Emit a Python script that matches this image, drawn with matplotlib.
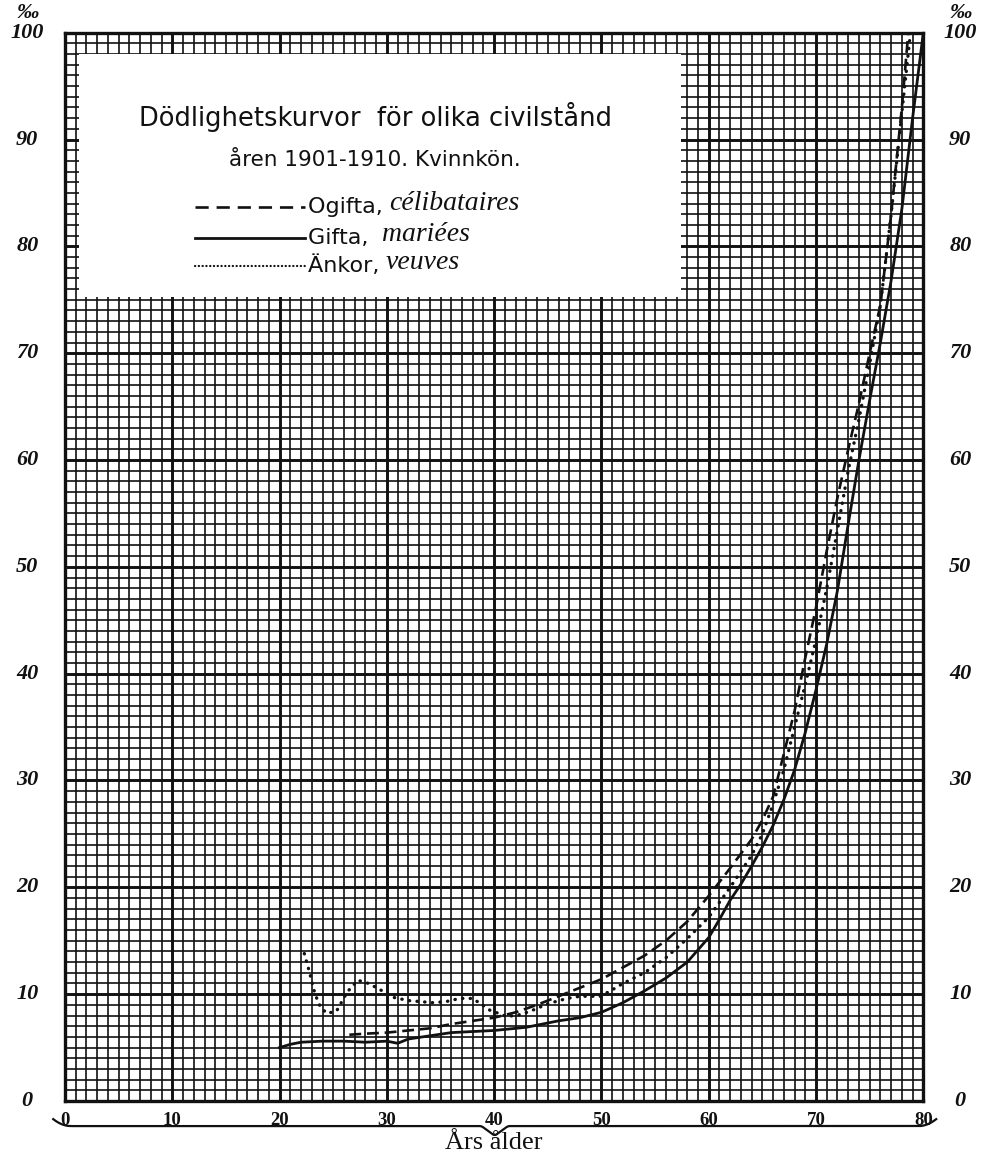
import matplotlib

matplotlib.use("Agg")
import matplotlib.pyplot as plt
from matplotlib.patches import Rectangle
import numpy as np

# mortality per mille by age, women 1901-1910
ogifta_age = [26.5, 28, 30, 32, 34, 36, 38, 40, 42, 44, 46, 48, 50, 52, 54, 56, 58, 60,
              62, 64, 65, 66, 67, 68, 69, 70, 71, 72, 73, 74, 75, 76, 77, 78, 78.6]
ogifta_rate = [6.2, 6.3, 6.4, 6.6, 6.8, 7.2, 7.5, 7.8, 8.3, 9.0, 9.8, 10.6, 11.4, 12.5, 13.6,
               15.0, 16.8, 19.2, 21.8, 24.5, 26.3, 28.5, 32.5, 36.5, 41.5, 46.2, 51.5, 56.5,
               61.0, 65.3, 70.0, 74.5, 83.0, 93.0, 100.0]

gifta_age = [20, 21, 22, 24, 26, 28, 30, 31, 32, 34, 36, 38, 40, 42, 43, 44, 46, 48, 50, 52,
             54, 56, 58, 60, 61, 62, 63, 64, 65, 66, 67, 68, 69, 70, 71, 72, 73, 74, 75, 76,
             77, 78, 79, 80]
gifta_rate = [5.0, 5.3, 5.5, 5.6, 5.6, 5.5, 5.6, 5.4, 5.8, 6.1, 6.4, 6.5, 6.6, 6.8, 6.9, 7.1,
              7.5, 7.8, 8.3, 9.2, 10.3, 11.5, 13.0, 15.3, 17.0, 18.8, 20.3, 22.0, 23.8, 25.8,
              28.2, 31.0, 34.5, 38.5, 42.8, 47.8, 54.0, 60.0, 65.6, 71.0, 76.8, 83.5, 92.0,
              100.0]

ankor_age = [22.3, 22.8, 23.3, 23.8, 24.4, 25.3, 26.3, 27.3, 28.3, 29.4, 30.6, 32, 34.3, 35.5,
             36.8, 38, 39.6, 41.2, 42.5, 43.6, 45, 46.8, 48, 49.9, 51, 52, 54, 56, 58, 60, 62,
             64, 65, 66, 67, 68, 69, 70, 71, 72, 73, 74, 75, 76, 77, 78, 78.8]
ankor_rate = [13.8, 12.0, 10.0, 8.8, 8.2, 8.4, 10.2, 11.3, 11.0, 10.4, 9.7, 9.4, 9.2, 9.3, 9.6,
              9.6, 8.5, 7.9, 8.1, 8.5, 9.1, 9.6, 9.8, 9.8, 10.4, 11.0, 12.0, 13.4, 15.2, 17.2,
              20.0, 23.0, 25.0, 27.8, 31.0, 35.0, 39.0, 43.2, 48.0, 53.5, 59.0, 63.8, 69.0,
              74.5, 83.0, 92.5, 100.0]

x_ticks = list(range(0, 81, 10))
y_ticks = list(range(0, 101, 10))

INK = "#111111"
SERIF = "Liberation Serif"

fig = plt.figure(figsize=(9.81, 11.56), dpi=100, facecolor="white")
ax = fig.add_axes([0.0663, 0.0476, 0.8749, 0.9241])
ax.set_xlim(0, 80)
ax.set_ylim(0, 100)

# graph paper
ax.set_xticks(x_ticks)
ax.set_yticks(y_ticks)
ax.set_xticks(np.arange(0, 81, 1), minor=True)
ax.set_yticks(np.arange(0, 101, 1), minor=True)
ax.grid(True, which="major", color=INK, linewidth=2.1)
ax.grid(True, which="minor", color=INK, linewidth=1.2)
ax.set_axisbelow(True)
ax.tick_params(which="both", length=0, labelbottom=False, labelleft=False)
for spine in ax.spines.values():
    spine.set_linewidth(2.4)
    spine.set_color(INK)

# white legend panel
ax.add_patch(Rectangle((1.3, 75.3), 56.1, 22.7, facecolor="white", edgecolor="none", zorder=1))

ax.plot(ogifta_age, ogifta_rate, color=INK, linewidth=1.9, linestyle=(0, (4.5, 2.2)), zorder=3)
ax.plot(gifta_age, gifta_rate, color=INK, linewidth=2.0, zorder=3)
ax.plot(ankor_age, ankor_rate, color=INK, linewidth=2.4, linestyle=(0, (0.1, 2.2)),
        dash_capstyle="round", zorder=3)

# title and legend inside the panel
ax.text(28.9, 92.1, "Dödlighetskurvor  för olika civilstånd", ha="center", va="center",
        fontsize=18.5, color=INK, zorder=4)
ax.text(28.9, 88.1, "åren 1901-1910. Kvinnkön.", ha="center", va="center",
        fontsize=15.5, color=INK, zorder=4)

entries = [
    ("Ogifta, ", "célibataires", 83.7, dict(linestyle=(0, (5.0, 3.0)), linewidth=1.9)),
    ("Gifta,  ", "mariées", 80.8, dict(linewidth=2.0)),
    ("Änkor, ", "veuves", 78.2, dict(linestyle=(0, (0.1, 1.6)), linewidth=1.6,
                                      dash_capstyle="round")),
]
for label, french, y, style in entries:
    ax.plot([12.1, 22.4], [y, y], color=INK, zorder=4, **style)
    t = ax.text(22.6, y, label, ha="left", va="center", fontsize=16, color=INK, zorder=4)
    ax.annotate(french, xy=(1, 0.05), xycoords=t, ha="left", va="bottom", fontsize=20,
                style="italic", family=SERIF, color=INK, zorder=4)

# axis labels on both sides
for v in y_ticks:
    for xa in (-0.044, 1.043):
        ax.text(xa, v, str(v), transform=ax.get_yaxis_transform(), ha="center", va="center",
                fontsize=16, fontweight="bold", style="italic", family=SERIF, color=INK,
                clip_on=False)
for xa in (-0.044, 1.043):
    ax.annotate("‰", xy=(xa, 100), xycoords=ax.get_yaxis_transform(), xytext=(0, 14),
                textcoords="offset points", ha="center", va="center", fontsize=16,
                fontweight="bold", style="italic", family=SERIF, color=INK)

for v in x_ticks:
    ax.text(v, -1.8, str(v), ha="center", va="center", fontsize=13.5, fontweight="bold",
            family=SERIF, color=INK, clip_on=False)

# curly brace under the age axis
t = np.linspace(0, 1, 400)
bx = -1.1 + t * 82.3
by = np.full_like(t, -2.35)
end = 0.02
by = np.where(t < end, -2.35 + 0.65 * (1 - t / end) ** 2, by)
by = np.where(t > 1 - end, -2.35 + 0.65 * (1 - (1 - t) / end) ** 2, by)
mid = np.abs(t - 0.5)
by = np.where(mid < 0.015, -2.35 - 0.9 * (1 - mid / 0.015), by)
ax.plot(bx, by, color=INK, linewidth=1.6, clip_on=False)

ax.text(40, -3.95, "Års ålder", ha="center", va="center", fontsize=19, family=SERIF,
        color=INK, clip_on=False)

fig.savefig("out.png", dpi=100)
